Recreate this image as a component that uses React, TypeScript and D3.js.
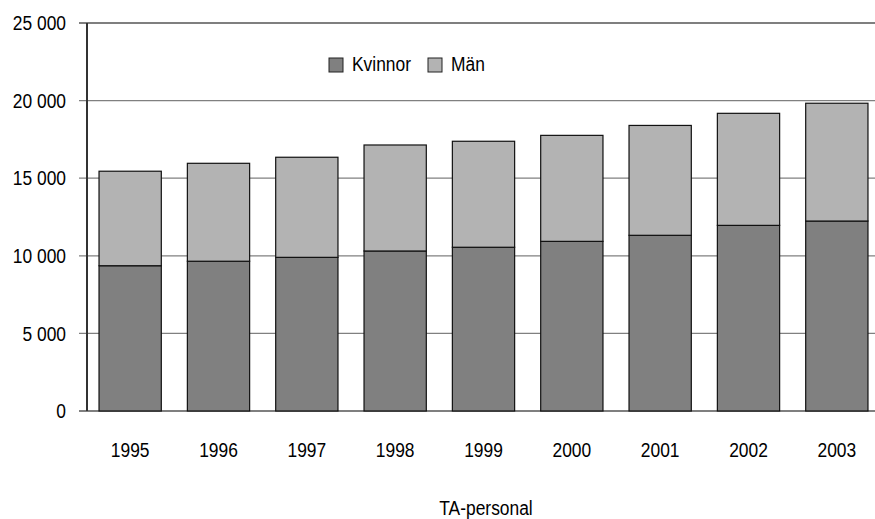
import React, { useEffect, useRef } from "react";
import * as d3 from "d3";

const years = ["1995", "1996", "1997", "1998", "1999", "2000", "2001", "2002", "2003"];
const kvinnor = [9360, 9650, 9900, 10310, 10550, 10930, 11320, 11960, 12240];
const man = [6090, 6310, 6450, 6830, 6830, 6830, 7080, 7220, 7590];
const yTicks = [0, 5000, 10000, 15000, 20000, 25000];
const seriesNames = ["Kvinnor", "Män"];
const colors = ["#808080", "#b3b3b3"];

const W = 875;
const H = 519;

export default function App() {
  const ref = useRef<SVGSVGElement>(null);

  useEffect(() => {
    const svg = d3.select(ref.current);
    svg.selectAll("*").remove();

    const left = 87, top = 23, bottom = 411, right = 881;
    const font = "'Liberation Sans', Arial, sans-serif";

    const x = d3.scaleBand().domain(years).range([left - 1, right]).paddingInner(0.295).paddingOuter(0.1475);
    const y = d3.scaleLinear().domain([0, 25000]).range([bottom, top]);
    const fmt = (v: number) => d3.format(",")(v).replace(/,/g, " ");

    // gridlines
    svg.append("g").selectAll("line")
      .data(yTicks)
      .join("line")
      .attr("x1", 79)
      .attr("x2", W)
      .attr("y1", d => y(d))
      .attr("y2", d => y(d))
      .attr("stroke", d => (d === 25000 || d === 0 ? "#000" : "#808080"))
      .attr("stroke-width", d => (d === 25000 || d === 0 ? 1.2 : 1.2));

    // y labels
    svg.append("g").selectAll("text")
      .data(yTicks)
      .join("text")
      .attr("transform", d => `translate(66, ${y(d)}) scale(0.87,1)`)
      .attr("text-anchor", "end")
      .attr("dy", "0.36em")
      .attr("font-family", font)
      .attr("font-size", 20)
      .attr("fill", "#000")
      .text(d => fmt(d));

    // stacked bars
    const rows = years.map((yr, i) => ({ year: yr, Kvinnor: kvinnor[i], "Män": man[i] }));
    const stacked = d3.stack<any>().keys(seriesNames)(rows);

    svg.append("g").selectAll("g")
      .data(stacked)
      .join("g")
      .attr("fill", (d, i) => colors[i])
      .selectAll("rect")
      .data(d => d)
      .join("rect")
      .attr("x", d => x(d.data.year)!)
      .attr("width", x.bandwidth())
      .attr("y", d => y(d[1]))
      .attr("height", d => y(d[0]) - y(d[1]))
      .attr("stroke", "#111")
      .attr("stroke-width", 1.2);

    // y axis line
    svg.append("line")
      .attr("x1", left).attr("x2", left)
      .attr("y1", top).attr("y2", bottom)
      .attr("stroke", "#333")
      .attr("stroke-width", 2);

    // x labels
    svg.append("g").selectAll("text")
      .data(years)
      .join("text")
      .attr("transform", d => `translate(${x(d)! + x.bandwidth() / 2}, 457) scale(0.87,1)`)
      .attr("text-anchor", "middle")
      .attr("font-family", font)
      .attr("font-size", 20)
      .text(d => d);

    // title
    svg.append("text")
      .attr("transform", "translate(486, 515) scale(0.87,1)")
      .attr("text-anchor", "middle")
      .attr("font-family", font)
      .attr("font-size", 20)
      .text("TA-personal");

    // legend
    const legendX = [329, 428];
    const lg = svg.append("g").selectAll("g")
      .data(seriesNames)
      .join("g")
      .attr("transform", (d, i) => `translate(${legendX[i]}, 58)`);
    lg.append("rect")
      .attr("width", 14).attr("height", 14)
      .attr("fill", (d, i) => colors[i])
      .attr("stroke", "#222")
      .attr("stroke-width", 1);
    lg.append("text")
      .attr("transform", "translate(23, 13) scale(0.87,1)")
      .attr("font-family", font)
      .attr("font-size", 20)
      .text(d => d);
  }, []);

  return (
    <svg ref={ref} width={W} height={H} style={{ position: "absolute", left: 0, top: 0, background: "#fff" }} />
  );
}
